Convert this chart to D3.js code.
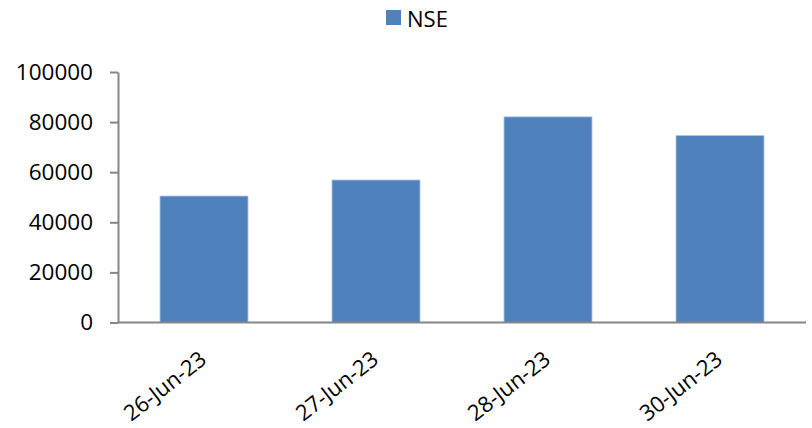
<!DOCTYPE html>
<html>
<head>
<meta charset="utf-8">
<script src="https://cdn.jsdelivr.net/npm/d3@7"></script>
<style>
  html, body { margin: 0; padding: 0; background: #fff; }
  svg { display: block; font-family: "Open Sans", sans-serif; }
</style>
</head>
<body>
<svg id="chart" width="812" height="428"></svg>
<script>
// Daily NSE volumes
const categories = ["26-Jun-23", "27-Jun-23", "28-Jun-23", "30-Jun-23"];
const nseValues = [50500, 56900, 82100, 74700];
const yTicks = [0, 20000, 40000, 60000, 80000, 100000];
const seriesName = "NSE";

const svg = d3.select("#chart");
const margin = { left: 118, right: 6, top: 72, bottom: 105.5 };
const W = 812, H = 428;

const x = d3.scaleBand()
  .domain(categories)
  .range([margin.left, W - margin.right])
  .paddingInner(0.488)
  .paddingOuter(0.244);

const y = d3.scaleLinear()
  .domain([0, 100000])
  .range([H - margin.bottom, margin.top]);

const barColor = "#4F81BD";
const axisColor = "#868686";

// bars
svg.append("g").selectAll("rect")
  .data(categories.map((c, i) => ({ c, v: nseValues[i] })))
  .join("rect")
  .attr("x", d => x(d.c))
  .attr("y", d => y(d.v))
  .attr("width", x.bandwidth())
  .attr("height", d => y(0) - y(d.v))
  .attr("fill", barColor)
  .attr("stroke", "#b9cde5")
  .attr("stroke-width", 0.8);

// y axis
const yAxis = svg.append("g")
  .attr("transform", `translate(${margin.left},0)`)
  .call(d3.axisLeft(y).tickValues(yTicks).tickSize(8).tickSizeOuter(0).tickPadding(17).tickFormat(d3.format("d")));
yAxis.select(".domain").attr("stroke", axisColor).attr("stroke-width", 2);
yAxis.selectAll(".tick line").attr("stroke", axisColor).attr("stroke-width", 2);
yAxis.selectAll(".tick text")
  .attr("fill", "#000")
  .style("font-size", "22.5px")
  .style("font-family", "'Open Sans', sans-serif");

// x axis
const xAxis = svg.append("g")
  .attr("transform", `translate(0,${y(0)})`)
  .call(d3.axisBottom(x).tickSize(0).tickSizeOuter(0).tickFormat(""));
xAxis.select(".domain")
  .attr("d", `M${margin.left},0H${W - margin.right}`)
  .attr("stroke", axisColor).attr("stroke-width", 2);

// slanted category labels
svg.append("g").selectAll("text")
  .data(categories)
  .join("text")
  .attr("transform", d => `translate(${x(d) + x.bandwidth() / 2 + 4},${y(0) + 39.5}) rotate(-38)`)
  .attr("text-anchor", "end")
  .style("font-size", "22px")
  .attr("fill", "#000")
  .text(d => d);

// legend
const legend = svg.append("g").attr("transform", "translate(386,10)");
legend.append("rect").attr("width", 15).attr("height", 15).attr("fill", barColor);
legend.append("text")
  .attr("x", 21).attr("y", 16.5)
  .style("font-size", "22px")
  .attr("fill", "#000")
  .text(seriesName);
</script>
</body>
</html>
